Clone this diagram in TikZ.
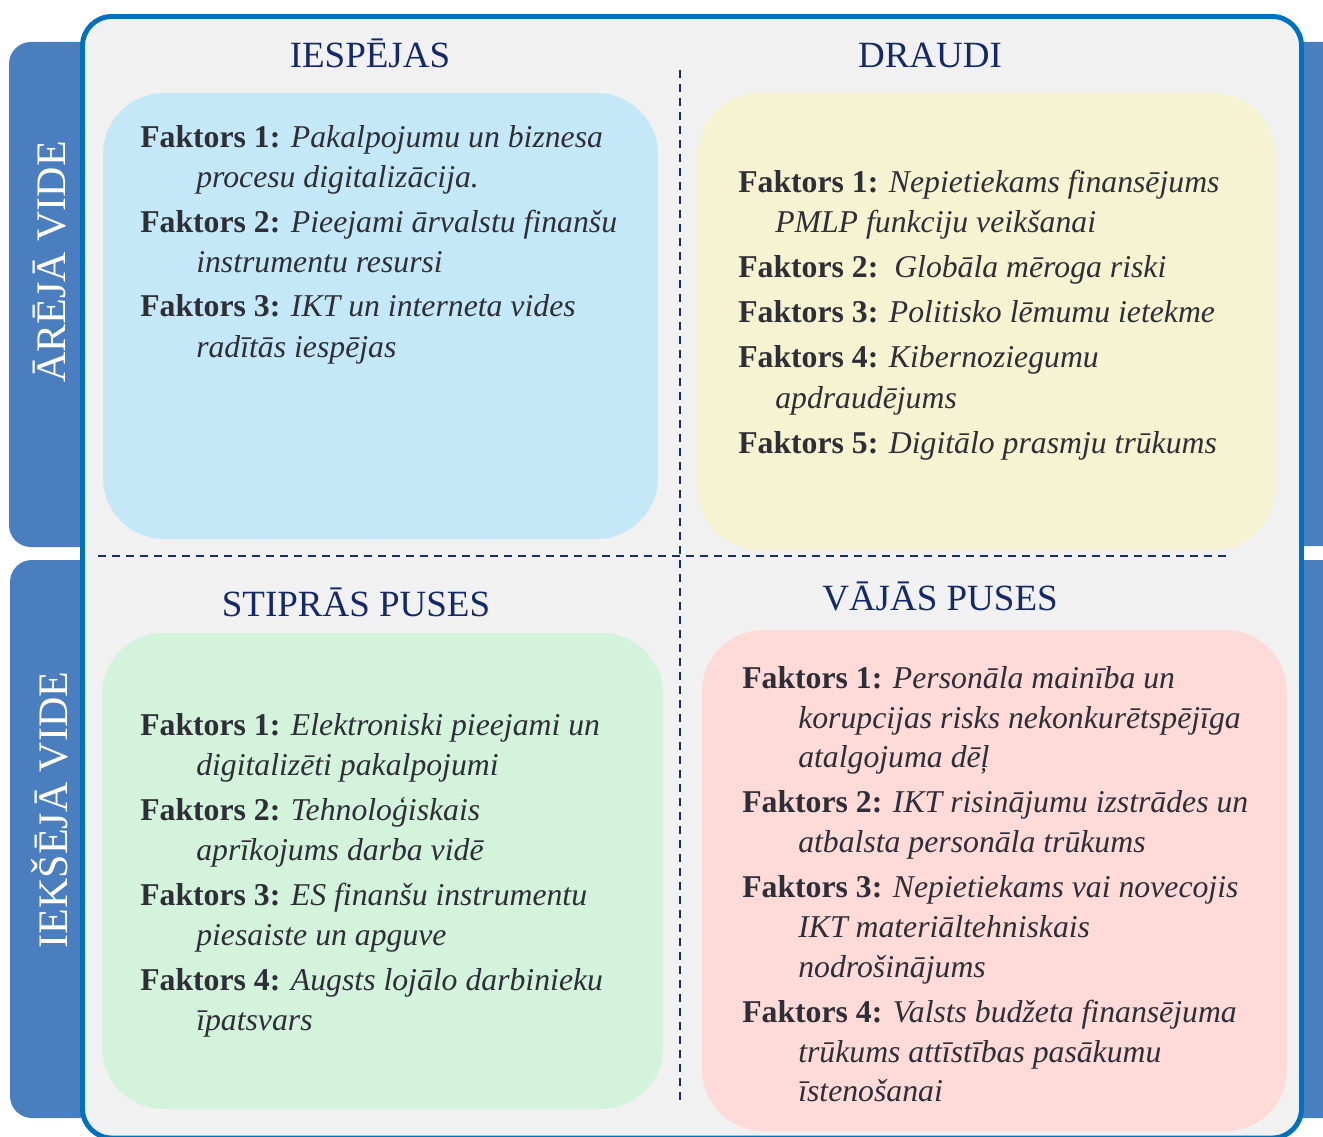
\documentclass[tikz,border=0pt]{standalone}
\usepackage{fontspec}
\setmainfont{Liberation Serif}
\definecolor{framec}{HTML}{0070C0}
\definecolor{tabc}{HTML}{4A7EBF}
\definecolor{bgc}{HTML}{F1F1F1}
\definecolor{navy}{HTML}{14286A}
\definecolor{dashc}{HTML}{152E66}
\definecolor{txtc}{HTML}{2E2E36}
\definecolor{bluebox}{HTML}{C5E8F9}
\definecolor{yelbox}{HTML}{F6F3D2}
\definecolor{grnbox}{HTML}{D3F3DD}
\definecolor{pnkbox}{HTML}{FEDAD9}
\tikzset{
  tab/.style={fill=tabc, draw=none, rounded corners=16.5pt},
  qbox/.style={draw=none, rounded corners=46pt},
  divider/.style={draw=dashc, line width=2.2pt, dash pattern=on 6pt off 4.5pt},
  ttl/.style={anchor=base, inner sep=0pt, text=navy, font=\fontsize{27.75pt}{30pt}\selectfont},
  side/.style={inner sep=0pt, text=white, rotate=90, font=\fontsize{31.5pt}{34pt}\selectfont},
  txt/.style={anchor=base west, inner sep=0pt, text=txtc, font=\fontsize{23.8pt}{30pt}\selectfont},
}
\newcommand{\fk}[1]{\textbf{Faktors #1:}}
\begin{document}
\begin{tikzpicture}[x=0.75pt,y=-0.75pt]
\useasboundingbox (0,0) rectangle (1323,1137);
\clip (0,0) rectangle (1323,1137);
% tabs
\path[tab] (9,42) rectangle (100,547);
\path[tab] (10,560) rectangle (100,1118);
\path[tab] (1280,42) rectangle (1345,546);
\path[tab] (1280,560) rectangle (1345,1118);
% frame
\path[fill=bgc, draw=framec, line width=3.7pt, rounded corners=22pt] (82.5,16.5) rectangle (1301.5,1138);
% quadrant boxes
\path[qbox, fill=bluebox] (103,93) rectangle (658,539);
\path[qbox, fill=yelbox] (698,93) rectangle (1275,550);
\path[qbox, fill=grnbox] (102,633) rectangle (663,1109);
\path[qbox, fill=pnkbox] (702,630) rectangle (1287,1131);
% dividers
\coordinate (hl) at (98,556);
\coordinate (hr) at (1228,556);
\coordinate (vt) at (680,70);
\coordinate (vb) at (680,1100);
\draw[divider] (hl) -- (hr);
\draw[divider] (vt) -- (vb);
% side labels
\node[side] (sideA) at (50,262) {ĀRĒJĀ VIDE};
\node[side] (sideB) at (50,810) {IEKŠĒJĀ VIDE};
% titles
\node[ttl] (tO) at (370,68) {IESPĒJAS};
\node[ttl] (tT) at (930,68) {DRAUDI};
\node[ttl] (tS) at (356,616) {STIPRĀS PUSES};
\node[ttl] (tW) at (940,610) {VĀJĀS PUSES};
% opportunities
\node[txt] (o1) at (140,148) {\fk{1} \textit{Pakalpojumu un biznesa}};
\node[txt] (o1b) at (196,188) {\textit{procesu digitalizācija.}};
\node[txt] (o2) at (140,233) {\fk{2} \textit{Pieejami ārvalstu finanšu}};
\node[txt] (o2b) at (196,273) {\textit{instrumentu resursi}};
\node[txt] (o3) at (140,317) {\fk{3} \textit{IKT un interneta vides}};
\node[txt] (o3b) at (196,357) {\textit{radītās iespējas}};
% threats
\node[txt] (t1) at (738,193) {\fk{1} \textit{Nepietiekams finansējums}};
\node[txt] (t1b) at (775,233) {\textit{PMLP funkciju veikšanai}};
\node[txt] (t2) at (738,278) {\fk{2}\ \ \textit{Globāla mēroga riski}};
\node[txt] (t3) at (738,323) {\fk{3} \textit{Politisko lēmumu ietekme}};
\node[txt] (t4) at (738,368) {\fk{4} \textit{Kibernoziegumu}};
\node[txt] (t4b) at (775,408) {\textit{apdraudējums}};
\node[txt] (t5) at (738,453) {\fk{5} \textit{Digitālo prasmju trūkums}};
% strengths
\node[txt] (s1) at (140,735) {\fk{1} \textit{Elektroniski pieejami un}};
\node[txt] (s1b) at (196,775) {\textit{digitalizēti pakalpojumi}};
\node[txt] (s2) at (140,820) {\fk{2} \textit{Tehnoloģiskais}};
\node[txt] (s2b) at (196,860) {\textit{aprīkojums darba vidē}};
\node[txt] (s3) at (140,905) {\fk{3} \textit{ES finanšu instrumentu}};
\node[txt] (s3b) at (196,945) {\textit{piesaiste un apguve}};
\node[txt] (s4) at (140,990) {\fk{4} \textit{Augsts lojālo darbinieku}};
\node[txt] (s4b) at (196,1030) {\textit{īpatsvars}};
% weaknesses
\node[txt] (w1) at (742,688) {\fk{1} \textit{Personāla mainība un}};
\node[txt] (w1b) at (798,728) {\textit{korupcijas risks nekonkurētspējīga}};
\node[txt] (w1c) at (798,767) {\textit{atalgojuma dēļ}};
\node[txt] (w2) at (742,812) {\fk{2} \textit{IKT risinājumu izstrādes un}};
\node[txt] (w2b) at (798,852) {\textit{atbalsta personāla trūkums}};
\node[txt] (w3) at (742,897) {\fk{3} \textit{Nepietiekams vai novecojis}};
\node[txt] (w3b) at (798,937) {\textit{IKT materiāltehniskais}};
\node[txt] (w3c) at (798,977) {\textit{nodrošinājums}};
\node[txt] (w4) at (742,1022) {\fk{4} \textit{Valsts budžeta finansējuma}};
\node[txt] (w4b) at (798,1062) {\textit{trūkums attīstības pasākumu}};
\node[txt] (w4c) at (798,1101) {\textit{īstenošanai}};
\end{tikzpicture}
\end{document}
